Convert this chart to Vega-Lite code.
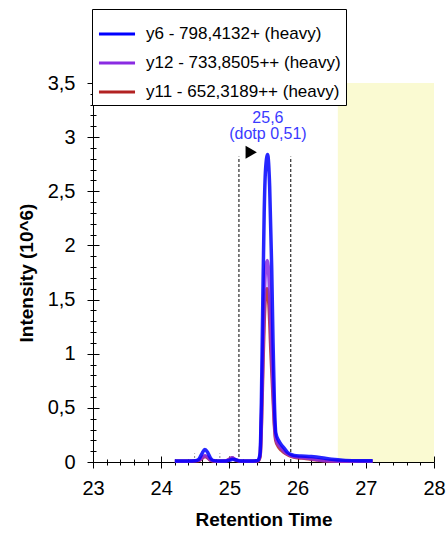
{
  "$schema": "https://vega.github.io/schema/vega-lite/v6.json",
  "width": 341,
  "height": 379,
  "autosize": {"type": "none"},
  "padding": {"left": 93, "top": 83, "right": 13, "bottom": 72},
  "config": {"view": {"stroke": null}, "font": "Liberation Sans"},
  "datasets": {
    "band": [{"start": 26.59, "end": 28, "lo": 0, "hi": 3.5}],
    "grey": [{"rt": 24.49, "lo": 0, "hi": 0.08}, {"rt": 24.86, "lo": 0, "hi": 0.08}],
    "bounds": [{"rt": 25.14, "lo": 0, "hi": 2.82}, {"rt": 25.9, "lo": 0, "hi": 2.82}],
    "marker": [{"rt": 25.32, "intensity": 2.86}],
    "notes": [{"rt": 25.565, "intensity": 3.13, "label": "25,6"}, {"rt": 25.565, "intensity": 2.98, "label": "(dotp 0,51)"}],
    "traces": [
      {"series": "y11 - 652,3189++ (heavy)", "rt": 24.2, "intensity": 0.006},
      {"series": "y11 - 652,3189++ (heavy)", "rt": 24.4, "intensity": 0.006},
      {"series": "y11 - 652,3189++ (heavy)", "rt": 24.55, "intensity": 0.012},
      {"series": "y11 - 652,3189++ (heavy)", "rt": 24.6, "intensity": 0.035},
      {"series": "y11 - 652,3189++ (heavy)", "rt": 24.64, "intensity": 0.05},
      {"series": "y11 - 652,3189++ (heavy)", "rt": 24.68, "intensity": 0.04},
      {"series": "y11 - 652,3189++ (heavy)", "rt": 24.72, "intensity": 0.018},
      {"series": "y11 - 652,3189++ (heavy)", "rt": 24.8, "intensity": 0.006},
      {"series": "y11 - 652,3189++ (heavy)", "rt": 24.95, "intensity": 0.01},
      {"series": "y11 - 652,3189++ (heavy)", "rt": 25.0, "intensity": 0.025},
      {"series": "y11 - 652,3189++ (heavy)", "rt": 25.04, "intensity": 0.038},
      {"series": "y11 - 652,3189++ (heavy)", "rt": 25.08, "intensity": 0.022},
      {"series": "y11 - 652,3189++ (heavy)", "rt": 25.15, "intensity": 0.008},
      {"series": "y11 - 652,3189++ (heavy)", "rt": 25.3, "intensity": 0.006},
      {"series": "y11 - 652,3189++ (heavy)", "rt": 25.42, "intensity": 0.01},
      {"series": "y11 - 652,3189++ (heavy)", "rt": 25.45, "intensity": 0.05},
      {"series": "y11 - 652,3189++ (heavy)", "rt": 25.47, "intensity": 0.35},
      {"series": "y11 - 652,3189++ (heavy)", "rt": 25.49, "intensity": 0.85},
      {"series": "y11 - 652,3189++ (heavy)", "rt": 25.51, "intensity": 1.3},
      {"series": "y11 - 652,3189++ (heavy)", "rt": 25.53, "intensity": 1.54},
      {"series": "y11 - 652,3189++ (heavy)", "rt": 25.55, "intensity": 1.6},
      {"series": "y11 - 652,3189++ (heavy)", "rt": 25.58, "intensity": 1.45},
      {"series": "y11 - 652,3189++ (heavy)", "rt": 25.61, "intensity": 1.0},
      {"series": "y11 - 652,3189++ (heavy)", "rt": 25.64, "intensity": 0.6},
      {"series": "y11 - 652,3189++ (heavy)", "rt": 25.66, "intensity": 0.34},
      {"series": "y11 - 652,3189++ (heavy)", "rt": 25.68, "intensity": 0.2},
      {"series": "y11 - 652,3189++ (heavy)", "rt": 25.72, "intensity": 0.14},
      {"series": "y11 - 652,3189++ (heavy)", "rt": 25.76, "intensity": 0.11},
      {"series": "y11 - 652,3189++ (heavy)", "rt": 25.8, "intensity": 0.09},
      {"series": "y11 - 652,3189++ (heavy)", "rt": 25.85, "intensity": 0.07},
      {"series": "y11 - 652,3189++ (heavy)", "rt": 25.9, "intensity": 0.055},
      {"series": "y11 - 652,3189++ (heavy)", "rt": 26.0, "intensity": 0.04},
      {"series": "y11 - 652,3189++ (heavy)", "rt": 26.1, "intensity": 0.035},
      {"series": "y11 - 652,3189++ (heavy)", "rt": 26.2, "intensity": 0.025},
      {"series": "y11 - 652,3189++ (heavy)", "rt": 26.3, "intensity": 0.018},
      {"series": "y11 - 652,3189++ (heavy)", "rt": 26.4, "intensity": 0.01},
      {"series": "y11 - 652,3189++ (heavy)", "rt": 26.6, "intensity": 0.006},
      {"series": "y11 - 652,3189++ (heavy)", "rt": 26.8, "intensity": 0.006},
      {"series": "y11 - 652,3189++ (heavy)", "rt": 27.0, "intensity": 0.006},
      {"series": "y11 - 652,3189++ (heavy)", "rt": 27.1, "intensity": 0.006},
      {"series": "y12 - 733,8505++ (heavy)", "rt": 24.2, "intensity": 0.008},
      {"series": "y12 - 733,8505++ (heavy)", "rt": 24.4, "intensity": 0.008},
      {"series": "y12 - 733,8505++ (heavy)", "rt": 24.55, "intensity": 0.015},
      {"series": "y12 - 733,8505++ (heavy)", "rt": 24.6, "intensity": 0.04},
      {"series": "y12 - 733,8505++ (heavy)", "rt": 24.64, "intensity": 0.06},
      {"series": "y12 - 733,8505++ (heavy)", "rt": 24.68, "intensity": 0.045},
      {"series": "y12 - 733,8505++ (heavy)", "rt": 24.72, "intensity": 0.02},
      {"series": "y12 - 733,8505++ (heavy)", "rt": 24.8, "intensity": 0.008},
      {"series": "y12 - 733,8505++ (heavy)", "rt": 24.95, "intensity": 0.01},
      {"series": "y12 - 733,8505++ (heavy)", "rt": 25.0, "intensity": 0.025},
      {"series": "y12 - 733,8505++ (heavy)", "rt": 25.04, "intensity": 0.04},
      {"series": "y12 - 733,8505++ (heavy)", "rt": 25.08, "intensity": 0.025},
      {"series": "y12 - 733,8505++ (heavy)", "rt": 25.15, "intensity": 0.01},
      {"series": "y12 - 733,8505++ (heavy)", "rt": 25.3, "intensity": 0.008},
      {"series": "y12 - 733,8505++ (heavy)", "rt": 25.42, "intensity": 0.012},
      {"series": "y12 - 733,8505++ (heavy)", "rt": 25.45, "intensity": 0.06},
      {"series": "y12 - 733,8505++ (heavy)", "rt": 25.47, "intensity": 0.4},
      {"series": "y12 - 733,8505++ (heavy)", "rt": 25.49, "intensity": 1.0},
      {"series": "y12 - 733,8505++ (heavy)", "rt": 25.51, "intensity": 1.5},
      {"series": "y12 - 733,8505++ (heavy)", "rt": 25.53, "intensity": 1.78},
      {"series": "y12 - 733,8505++ (heavy)", "rt": 25.555, "intensity": 1.86},
      {"series": "y12 - 733,8505++ (heavy)", "rt": 25.58, "intensity": 1.7},
      {"series": "y12 - 733,8505++ (heavy)", "rt": 25.61, "intensity": 1.2},
      {"series": "y12 - 733,8505++ (heavy)", "rt": 25.64, "intensity": 0.7},
      {"series": "y12 - 733,8505++ (heavy)", "rt": 25.66, "intensity": 0.38},
      {"series": "y12 - 733,8505++ (heavy)", "rt": 25.68, "intensity": 0.22},
      {"series": "y12 - 733,8505++ (heavy)", "rt": 25.72, "intensity": 0.16},
      {"series": "y12 - 733,8505++ (heavy)", "rt": 25.76, "intensity": 0.13},
      {"series": "y12 - 733,8505++ (heavy)", "rt": 25.8, "intensity": 0.1},
      {"series": "y12 - 733,8505++ (heavy)", "rt": 25.85, "intensity": 0.075},
      {"series": "y12 - 733,8505++ (heavy)", "rt": 25.9, "intensity": 0.06},
      {"series": "y12 - 733,8505++ (heavy)", "rt": 26.0, "intensity": 0.045},
      {"series": "y12 - 733,8505++ (heavy)", "rt": 26.1, "intensity": 0.04},
      {"series": "y12 - 733,8505++ (heavy)", "rt": 26.2, "intensity": 0.03},
      {"series": "y12 - 733,8505++ (heavy)", "rt": 26.3, "intensity": 0.02},
      {"series": "y12 - 733,8505++ (heavy)", "rt": 26.4, "intensity": 0.012},
      {"series": "y12 - 733,8505++ (heavy)", "rt": 26.6, "intensity": 0.008},
      {"series": "y12 - 733,8505++ (heavy)", "rt": 26.8, "intensity": 0.008},
      {"series": "y12 - 733,8505++ (heavy)", "rt": 27.0, "intensity": 0.008},
      {"series": "y12 - 733,8505++ (heavy)", "rt": 27.1, "intensity": 0.008},
      {"series": "y6 - 798,4132+ (heavy)", "rt": 24.2, "intensity": 0.01},
      {"series": "y6 - 798,4132+ (heavy)", "rt": 24.3, "intensity": 0.01},
      {"series": "y6 - 798,4132+ (heavy)", "rt": 24.4, "intensity": 0.01},
      {"series": "y6 - 798,4132+ (heavy)", "rt": 24.5, "intensity": 0.012},
      {"series": "y6 - 798,4132+ (heavy)", "rt": 24.55, "intensity": 0.025},
      {"series": "y6 - 798,4132+ (heavy)", "rt": 24.6, "intensity": 0.08},
      {"series": "y6 - 798,4132+ (heavy)", "rt": 24.64, "intensity": 0.115},
      {"series": "y6 - 798,4132+ (heavy)", "rt": 24.68, "intensity": 0.09},
      {"series": "y6 - 798,4132+ (heavy)", "rt": 24.72, "intensity": 0.04},
      {"series": "y6 - 798,4132+ (heavy)", "rt": 24.76, "intensity": 0.015},
      {"series": "y6 - 798,4132+ (heavy)", "rt": 24.85, "intensity": 0.01},
      {"series": "y6 - 798,4132+ (heavy)", "rt": 24.95, "intensity": 0.01},
      {"series": "y6 - 798,4132+ (heavy)", "rt": 25.0, "intensity": 0.015},
      {"series": "y6 - 798,4132+ (heavy)", "rt": 25.05, "intensity": 0.025},
      {"series": "y6 - 798,4132+ (heavy)", "rt": 25.1, "intensity": 0.018},
      {"series": "y6 - 798,4132+ (heavy)", "rt": 25.15, "intensity": 0.01},
      {"series": "y6 - 798,4132+ (heavy)", "rt": 25.25, "intensity": 0.01},
      {"series": "y6 - 798,4132+ (heavy)", "rt": 25.35, "intensity": 0.01},
      {"series": "y6 - 798,4132+ (heavy)", "rt": 25.42, "intensity": 0.015},
      {"series": "y6 - 798,4132+ (heavy)", "rt": 25.45, "intensity": 0.08},
      {"series": "y6 - 798,4132+ (heavy)", "rt": 25.47, "intensity": 0.6},
      {"series": "y6 - 798,4132+ (heavy)", "rt": 25.49, "intensity": 1.5},
      {"series": "y6 - 798,4132+ (heavy)", "rt": 25.51, "intensity": 2.3},
      {"series": "y6 - 798,4132+ (heavy)", "rt": 25.53, "intensity": 2.7},
      {"series": "y6 - 798,4132+ (heavy)", "rt": 25.56, "intensity": 2.84},
      {"series": "y6 - 798,4132+ (heavy)", "rt": 25.59, "intensity": 2.55},
      {"series": "y6 - 798,4132+ (heavy)", "rt": 25.62, "intensity": 1.8},
      {"series": "y6 - 798,4132+ (heavy)", "rt": 25.64, "intensity": 1.1},
      {"series": "y6 - 798,4132+ (heavy)", "rt": 25.66, "intensity": 0.55},
      {"series": "y6 - 798,4132+ (heavy)", "rt": 25.68, "intensity": 0.27},
      {"series": "y6 - 798,4132+ (heavy)", "rt": 25.72, "intensity": 0.2},
      {"series": "y6 - 798,4132+ (heavy)", "rt": 25.76, "intensity": 0.16},
      {"series": "y6 - 798,4132+ (heavy)", "rt": 25.8, "intensity": 0.13},
      {"series": "y6 - 798,4132+ (heavy)", "rt": 25.85, "intensity": 0.09},
      {"series": "y6 - 798,4132+ (heavy)", "rt": 25.9, "intensity": 0.07},
      {"series": "y6 - 798,4132+ (heavy)", "rt": 25.95, "intensity": 0.06},
      {"series": "y6 - 798,4132+ (heavy)", "rt": 26.05, "intensity": 0.055},
      {"series": "y6 - 798,4132+ (heavy)", "rt": 26.2, "intensity": 0.05},
      {"series": "y6 - 798,4132+ (heavy)", "rt": 26.35, "intensity": 0.04},
      {"series": "y6 - 798,4132+ (heavy)", "rt": 26.5, "intensity": 0.025},
      {"series": "y6 - 798,4132+ (heavy)", "rt": 26.7, "intensity": 0.015},
      {"series": "y6 - 798,4132+ (heavy)", "rt": 26.9, "intensity": 0.012},
      {"series": "y6 - 798,4132+ (heavy)", "rt": 27.1, "intensity": 0.012}
    ]
  },
  "layer": [
    {
      "data": {"name": "band"},
      "mark": {"type": "rect", "fill": "#FAFAD2"},
      "encoding": {
        "x": {"field": "start", "type": "quantitative", "scale": {"domain": [23, 28], "nice": false, "zero": false},
          "axis": {"orient": "bottom", "values": [23,23.2,23.4,23.6,23.8,24,24.2,24.4,24.6,24.8,25,25.2,25.4,25.6,25.8,26,26.2,26.4,26.6,26.8,27,27.2,27.4,27.6,27.8,28],
            "labels": false, "domain": false, "grid": false, "title": null, "tickColor": "black",
            "tickSize": {"condition": {"test": "abs(datum.value - round(datum.value)) < 0.001", "value": -6}, "value": -3}}},
        "x2": {"field": "end"},
        "y": {"field": "lo", "type": "quantitative", "scale": {"domain": [0, 3.5], "nice": false, "zero": false},
          "axis": {"orient": "left", "values": [0,0.1,0.2,0.3,0.4,0.5,0.6,0.7,0.8,0.9,1,1.1,1.2,1.3,1.4,1.5,1.6,1.7,1.8,1.9,2,2.1,2.2,2.3,2.4,2.5,2.6,2.7,2.8,2.9,3,3.1,3.2,3.3,3.4,3.5],
            "labels": false, "domain": false, "grid": false, "title": null, "tickColor": "black",
            "tickSize": {"condition": {"test": "abs(datum.value*2 - round(datum.value*2)) < 0.001", "value": -6}, "value": -3}}},
        "y2": {"field": "hi"}
      }
    },
    {
      "data": {"name": "grey"},
      "mark": {"type": "rule", "color": "#888888", "strokeDash": [2, 2], "strokeWidth": 1},
      "encoding": {
        "x": {"field": "rt", "type": "quantitative", "axis": null},
        "y": {"field": "lo", "type": "quantitative", "axis": null},
        "y2": {"field": "hi"}
      }
    },
    {
      "data": {"name": "bounds"},
      "mark": {"type": "rule", "color": "black", "strokeDash": [3, 2], "strokeWidth": 1},
      "encoding": {
        "x": {"field": "rt", "type": "quantitative", "axis": null},
        "y": {"field": "lo", "type": "quantitative", "axis": null},
        "y2": {"field": "hi"}
      }
    },
    {
      "data": {"name": "traces"},
      "mark": {"type": "line", "strokeWidth": 3.5, "opacity": 0.85, "interpolate": "monotone"},
      "encoding": {
        "x": {"field": "rt", "type": "quantitative",
          "axis": {"orient": "bottom", "values": [23,23.2,23.4,23.6,23.8,24,24.2,24.4,24.6,24.8,25,25.2,25.4,25.6,25.8,26,26.2,26.4,26.6,26.8,27,27.2,27.4,27.6,27.8,28],
            "labelExpr": "abs(datum.value - round(datum.value)) < 0.001 ? format(datum.value, 'd') : ''",
            "labelOverlap": false, "labelFlush": false, "labelFontSize": 20, "labelColor": "black", "labelPadding": 10,
            "domainColor": "black", "tickColor": "black", "grid": false,
            "tickSize": {"condition": {"test": "abs(datum.value - round(datum.value)) < 0.001", "value": 6}, "value": 3},
            "title": "Retention Time", "titleFontSize": 19, "titleFontWeight": "bold", "titleColor": "black", "titlePadding": 12}},
        "y": {"field": "intensity", "type": "quantitative",
          "axis": {"orient": "left", "values": [0,0.1,0.2,0.3,0.4,0.5,0.6,0.7,0.8,0.9,1,1.1,1.2,1.3,1.4,1.5,1.6,1.7,1.8,1.9,2,2.1,2.2,2.3,2.4,2.5,2.6,2.7,2.8,2.9,3,3.1,3.2,3.3,3.4,3.5],
            "labelExpr": "abs(datum.value*2 - round(datum.value*2)) < 0.001 ? replace(format(datum.value, '~g'), '.', ',') : ''",
            "labelOverlap": false, "labelFlush": false, "labelFontSize": 20, "labelColor": "black", "labelPadding": 12,
            "domainColor": "black", "tickColor": "black", "grid": false,
            "tickSize": {"condition": {"test": "abs(datum.value*2 - round(datum.value*2)) < 0.001", "value": 6}, "value": 3},
            "title": "Intensity (10^6)", "titleFontSize": 19, "titleFontWeight": "bold", "titleColor": "black", "titlePadding": 11}},
        "color": {"field": "series", "type": "nominal",
          "scale": {"domain": ["y6 - 798,4132+ (heavy)", "y12 - 733,8505++ (heavy)", "y11 - 652,3189++ (heavy)"], "range": ["#0000FF", "#8A2BE2", "#B22222"]},
          "legend": {"orient": "none", "legendX": -1, "legendY": -74, "title": null, "symbolType": "stroke", "symbolSize": 1300, "symbolStrokeWidth": 3,
            "labelFontSize": 17, "labelColor": "black", "labelOffset": 9, "labelLimit": 400, "strokeColor": "black", "fillColor": "white", "padding": 5, "rowPadding": 1, "symbolOpacity": 1}}
      }
    },
    {
      "data": {"name": "marker"},
      "mark": {"type": "point", "shape": "triangle-right", "filled": true, "color": "black", "size": 170, "opacity": 1},
      "encoding": {
        "x": {"field": "rt", "type": "quantitative", "axis": null},
        "y": {"field": "intensity", "type": "quantitative", "axis": null}
      }
    },
    {
      "data": {"name": "notes"},
      "mark": {"type": "text", "color": "#3A3AFF", "fontSize": 16, "align": "center", "baseline": "alphabetic"},
      "encoding": {
        "x": {"field": "rt", "type": "quantitative", "axis": null},
        "y": {"field": "intensity", "type": "quantitative", "axis": null},
        "text": {"field": "label"}
      }
    }
  ],
  "resolve": {"axis": {"x": "independent", "y": "independent"}}
}
